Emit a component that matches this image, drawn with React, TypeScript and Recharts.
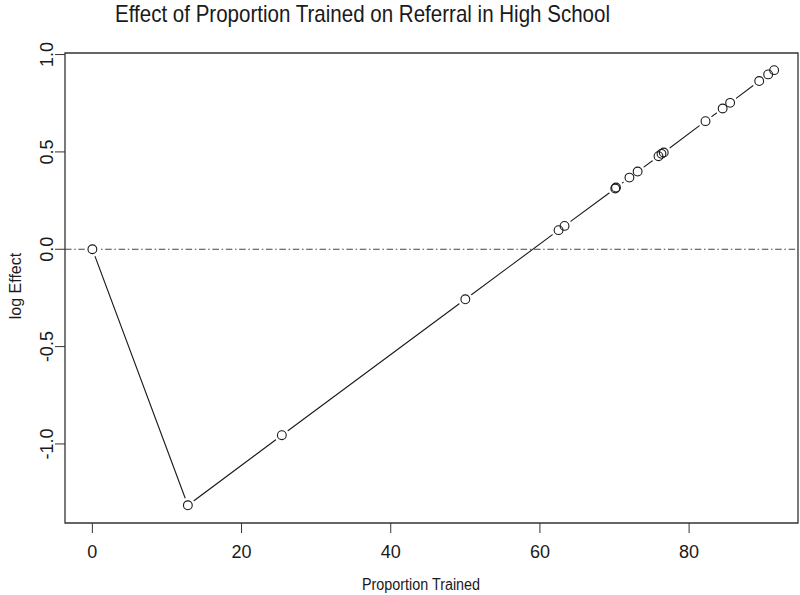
import React from 'react'
import {
	LineChart,
	Line,
	XAxis,
	YAxis,
	ReferenceLine,
	ReferenceArea,
} from 'recharts'

// values
const proportionTrained = [
	0, 12.8, 25.4, 50.0, 62.5, 63.3, 70.1, 70.2, 72.0, 73.1, 75.9, 76.3, 76.6,
	82.2, 84.5, 85.5, 89.4, 90.6, 91.4,
]
const logEffect = [
	0, -1.315, -0.955, -0.257, 0.098, 0.12, 0.312, 0.317, 0.368, 0.399, 0.478,
	0.49, 0.497, 0.658, 0.723, 0.752, 0.864, 0.898, 0.92,
]
const xTicks = [0, 20, 40, 60, 80]
const yTicks = [-1, -0.5, 0, 0.5, 1]

const X_DOMAIN: [number, number] = [-3.67, 94.6]
const Y_DOMAIN: [number, number] = [-1.406, 1.008]

const NARROW = "'Liberation Sans Narrow', 'Liberation Sans', Arial, sans-serif"
const INK = '#1a1a1a'

const data = proportionTrained.map((x, i) => ({ x, y: logEffect[i] }))

function XTick({ x, y, payload }: any) {
	return (
		<text
			x={x}
			y={y + 23}
			textAnchor='middle'
			fontSize={18}
			fontFamily={NARROW}
			fill={INK}
		>
			{payload.value}
		</text>
	)
}

function YTick({ x, y, payload }: any) {
	return (
		<text
			x={x}
			y={y}
			transform={`rotate(-90, ${x}, ${y})`}
			textAnchor='middle'
			fontSize={18}
			fontFamily={NARROW}
			fill={INK}
		>
			{Number(payload.value).toFixed(1)}
		</text>
	)
}

// white halo under each point, gives the gaps of an R type="b" line
const halo = (p: any) => (
	<circle key={`h${p.index}`} cx={p.cx} cy={p.cy} r={7.5} fill='#fff' />
)
const ring = (p: any) => (
	<circle
		key={`r${p.index}`}
		cx={p.cx}
		cy={p.cy}
		r={4.4}
		fill='none'
		stroke={INK}
		strokeWidth={1.1}
	/>
)

export default function App() {
	return (
		<div
			style={{
				position: 'absolute',
				left: 0,
				top: 0,
				width: 800,
				height: 595,
				background: '#fff',
			}}
		>
			<LineChart
				width={800}
				height={595}
				data={data}
				margin={{ top: 53, right: 2, bottom: 0, left: 0 }}
			>
				<XAxis
					dataKey='x'
					type='number'
					domain={X_DOMAIN}
					ticks={xTicks}
					allowDataOverflow
					height={72}
					tickSize={10}
					tickLine={{ stroke: '#333' }}
					axisLine={false}
					tick={<XTick />}
				/>
				<YAxis
					type='number'
					domain={Y_DOMAIN}
					ticks={yTicks}
					allowDataOverflow
					width={65}
					tickSize={10}
					tickLine={{ stroke: '#333' }}
					axisLine={false}
					tick={<YTick />}
				/>
				<ReferenceArea
					x1={X_DOMAIN[0]}
					x2={X_DOMAIN[1]}
					y1={Y_DOMAIN[0]}
					y2={Y_DOMAIN[1]}
					fill='none'
					fillOpacity={0}
					stroke='#333'
					strokeWidth={1.3}
				/>
				<ReferenceLine
					y={0}
					stroke='#444'
					strokeWidth={1}
					strokeDasharray='6.5 2.7 1.5 2.7'
				/>
				<Line
					dataKey='y'
					type='linear'
					stroke={INK}
					strokeWidth={1.1}
					dot={false}
					activeDot={false}
					isAnimationActive={false}
				/>
				<Line
					dataKey='y'
					type='linear'
					stroke='none'
					dot={halo}
					activeDot={false}
					isAnimationActive={false}
				/>
				<Line
					dataKey='y'
					type='linear'
					stroke='none'
					dot={ring}
					activeDot={false}
					isAnimationActive={false}
				/>
			</LineChart>
			<svg
				width={800}
				height={595}
				style={{ position: 'absolute', left: 0, top: 0, pointerEvents: 'none' }}
			>
				<text
					x={115}
					y={22}
					fontSize={24}
					fontFamily={NARROW}
					fill={INK}
					textLength={495}
					lengthAdjust='spacingAndGlyphs'
				>
					Effect of Proportion Trained on Referral in High School
				</text>
				<text
					x={362}
					y={590}
					fontSize={16}
					fontFamily={NARROW}
					fill={INK}
					textLength={118}
					lengthAdjust='spacingAndGlyphs'
				>
					Proportion Trained
				</text>
				<text
					x={21}
					y={286}
					transform='rotate(-90, 21, 286)'
					textAnchor='middle'
					fontSize={16}
					fontFamily={NARROW}
					fill={INK}
				>
					log Effect
				</text>
			</svg>
		</div>
	)
}
